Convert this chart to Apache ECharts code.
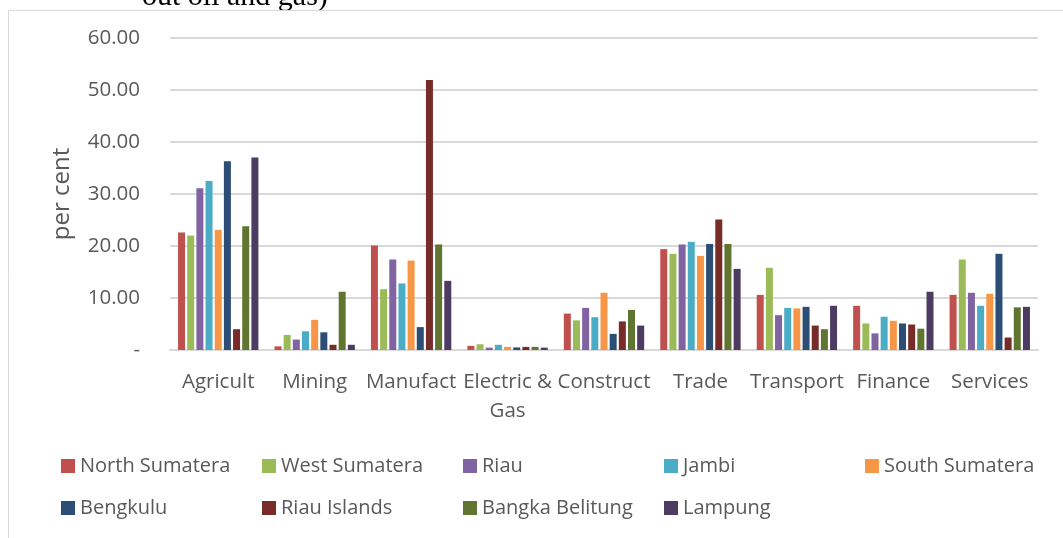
<!DOCTYPE html>
<html>
<head>
<meta charset="utf-8">
<style>
  html, body { margin: 0; padding: 0; background: #fff; }
  #chart { width: 1063px; height: 538px; }
</style>
<script src="https://cdn.jsdelivr.net/npm/echarts@6/dist/echarts.min.js"></script>
</head>
<body>
<div id="chart"></div>
<script>
  // sectors on the x axis
  var sectors = ['Agricult', 'Mining', 'Manufact', 'Electric &\nGas', 'Construct', 'Trade', 'Transport', 'Finance', 'Services'];

  // one array per province, in sector order (per cent)
  var northSumatera  = [22.6, 0.7, 20.1, 0.8, 7.0, 19.4, 10.6, 8.5, 10.6];
  var westSumatera   = [22.0, 2.9, 11.7, 1.1, 5.7, 18.5, 15.8, 5.1, 17.4];
  var riau           = [31.1, 2.0, 17.4, 0.45, 8.1, 20.3, 6.7, 3.2, 11.0];
  var jambi          = [32.5, 3.6, 12.8, 1.0, 6.3, 20.8, 8.1, 6.4, 8.5];
  var southSumatera  = [23.1, 5.8, 17.2, 0.6, 11.0, 18.1, 8.0, 5.6, 10.8];
  var bengkulu       = [36.3, 3.4, 4.4, 0.5, 3.1, 20.4, 8.3, 5.1, 18.5];
  var riauIslands    = [4.0, 1.0, 51.9, 0.6, 5.5, 25.1, 4.7, 4.9, 2.4];
  var bangkaBelitung = [23.8, 11.2, 20.3, 0.6, 7.7, 20.4, 4.0, 4.1, 8.2];
  var lampung        = [37.0, 1.0, 13.3, 0.45, 4.7, 15.6, 8.5, 11.2, 8.3];

  var provinces = ['North Sumatera', 'West Sumatera', 'Riau', 'Jambi', 'South Sumatera',
                   'Bengkulu', 'Riau Islands', 'Bangka Belitung', 'Lampung'];
  var values = [northSumatera, westSumatera, riau, jambi, southSumatera,
                bengkulu, riauIslands, bangkaBelitung, lampung];
  var colors = ['#C0504D', '#9BBB59', '#8064A2', '#4BACC6', '#F79646',
                '#2C4D75', '#772C2A', '#5F7530', '#4D3B62'];

  var yTicks = [0, 10, 20, 30, 40, 50, 60];

  var font = '"Open Sans", "Liberation Sans", sans-serif';
  var txt = '#595959';

  var chart = echarts.init(document.getElementById('chart'));

  // legend laid out as a 5 x 2 grid, like the original
  var legends = provinces.map(function (name, i) {
    return {
      data: [name],
      left: 61 + (i % 5) * 201,
      top: i < 5 ? 456 : 498,
      padding: 0,
      itemWidth: 14,
      itemHeight: 14,
      itemGap: 0,
      icon: 'rect',
      selectedMode: false,
      textStyle: { fontFamily: font, fontSize: 20, color: txt }
    };
  });

  var series = provinces.map(function (name, i) {
    return {
      name: name,
      type: 'bar',
      data: values[i],
      barWidth: 7,
      barGap: '31%',
      itemStyle: { color: colors[i] },
      emphasis: { disabled: true }
    };
  });

  chart.setOption({
    animation: false,
    backgroundColor: '#fff',
    color: colors,
    graphic: [
      {
        // caption of the page above, cut off by the crop
        type: 'text',
        left: 142,
        top: -18,
        style: { text: 'out oil and gas)', font: '30px "Liberation Serif", serif', fill: '#000' }
      },
      {
        type: 'polyline',
        shape: { points: [[8.5, 538], [8.5, 10.5], [1063, 10.5]] },
        style: { stroke: '#d9d9d9', lineWidth: 1, fill: null }
      }
    ],
    legend: legends,
    grid: { left: 170, right: 25, top: 38, bottom: 188 },
    xAxis: {
      type: 'category',
      data: sectors,
      axisLine: { lineStyle: { color: '#d9d9d9', width: 2 } },
      axisTick: { show: false },
      axisLabel: {
        fontFamily: font, fontSize: 20.5, color: txt, margin: 18,
        interval: 0, lineHeight: 29
      }
    },
    yAxis: {
      type: 'value',
      min: yTicks[0],
      max: yTicks[yTicks.length - 1],
      interval: 10,
      name: 'per cent',
      nameLocation: 'middle',
      nameRotate: 90,
      nameGap: 96,
      nameTextStyle: { fontFamily: font, fontSize: 24, color: txt },
      axisLine: { show: false },
      axisTick: { show: false },
      splitLine: { lineStyle: { color: '#d9d9d9', width: 2 } },
      axisLabel: {
        fontFamily: font, fontSize: 20.5, color: txt, margin: 30,
        formatter: function (v) { return v === 0 ? '-' : v.toFixed(2); }
      }
    },
    series: series
  });
</script>
</body>
</html>
